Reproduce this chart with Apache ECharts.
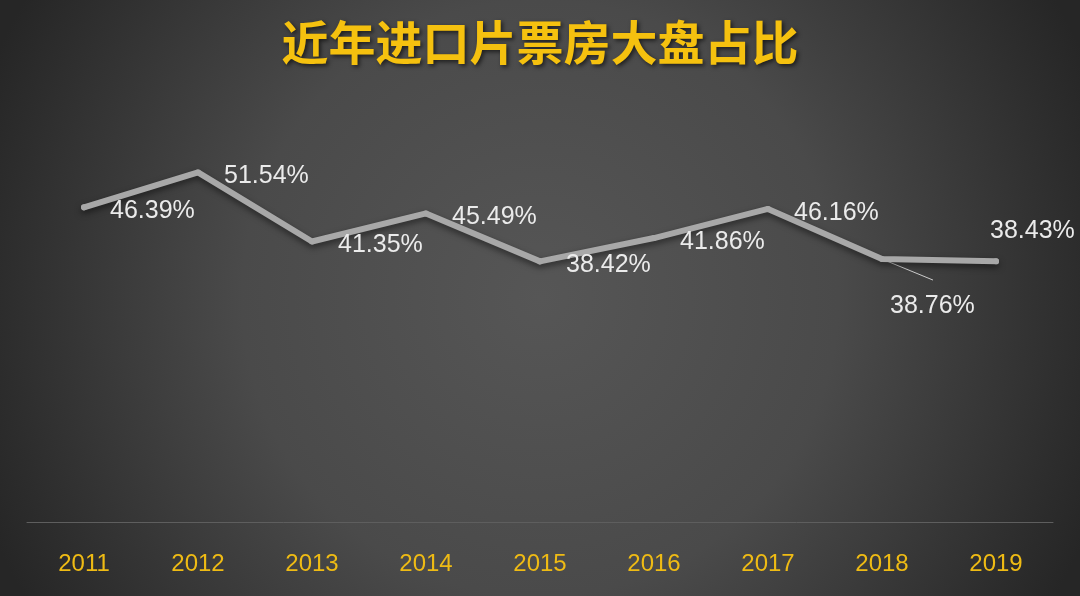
<!DOCTYPE html>
<html>
<head>
<meta charset="utf-8">
<script src="https://cdn.jsdelivr.net/npm/echarts@6/dist/echarts.min.js"></script>
<style>
html,body{margin:0;padding:0;background:#333;}
#chart{width:1080px;height:596px;}
</style>
</head>
<body>
<div id="chart"></div>
<script>
const titleText = '近年进口片票房大盘占比';
const years = ['2011','2012','2013','2014','2015','2016','2017','2018','2019'];
const shares = [46.39, 51.54, 41.35, 45.49, 38.42, 41.86, 46.16, 38.76, 38.43];
const leaderIndex = 7;

const chart = echarts.init(document.getElementById('chart'), null, {renderer:'canvas'});

const data = shares.map(function (v, i) {
  const item = { value: v };
  if (i === 7) {
    item.label = { offset: [-18, 47] };
  } else if (i === 8) {
    item.label = { offset: [-32, -30] };
  }
  return item;
});

chart.setOption({
  backgroundColor: {
    type: 'radial', x: 0.5, y: 0.5, r: 1.0,
    colorStops: [
      { offset: 0, color: '#565656' },
      { offset: 0.5, color: '#4a4a4a' },
      { offset: 0.9, color: '#2d2d2d' },
      { offset: 1, color: '#262626' }
    ]
  },
  title: {
    text: titleText,
    left: 'center',
    top: 14,
    textStyle: {
      fontFamily: '"Noto Sans CJK SC", sans-serif',
      fontSize: 47,
      fontWeight: 'bold',
      color: '#f5c10f',
      textShadowColor: 'rgba(0,0,0,0.6)',
      textShadowBlur: 4,
      textShadowOffsetX: 2,
      textShadowOffsetY: 2
    }
  },
  grid: { left: 27, right: 27, top: 115, bottom: 74 },
  xAxis: {
    type: 'category',
    data: years,
    boundaryGap: true,
    axisLine: { show: true, lineStyle: { color: '#5e5e5e', width: 1 } },
    axisTick: { show: false },
    axisLabel: {
      color: '#efbb14',
      fontSize: 24,
      fontFamily: '"Liberation Sans", Arial, sans-serif',
      margin: 30
    },
    splitLine: { show: false }
  },
  yAxis: {
    type: 'value',
    min: 0, max: 60,
    show: false,
    splitLine: { show: false }
  },
  series: [{
    type: 'custom',
    silent: true,
    z: 1,
    data: shares.map(function (v, i) { return [i, v]; }),
    renderItem: function (params, api) {
      if (params.dataIndex !== leaderIndex) return null;
      const p = api.coord([api.value(0), api.value(1)]);
      return {
        type: 'line',
        shape: { x1: p[0], y1: p[1], x2: p[0] + 51, y2: p[1] + 21 },
        style: { stroke: '#cccccc', lineWidth: 1 }
      };
    },
    animation: false
  }, {
    type: 'line',
    z: 2,
    data: data,
    symbol: 'circle',
    symbolSize: 6,
    itemStyle: { color: '#a8a8a8' },
    lineStyle: {
      color: '#a8a8a8',
      width: 6,
      cap: 'round',
      join: 'round',
      shadowColor: 'rgba(0,0,0,0.5)',
      shadowBlur: 6,
      shadowOffsetY: 3
    },
    label: {
      show: true,
      position: 'right',
      distance: 23,
      offset: [0, 4],
      formatter: function (p) { return p.value.toFixed(2) + '%'; },
      color: '#ebebeb',
      fontSize: 25,
      fontFamily: '"Liberation Sans", Arial, sans-serif'
    },
    emphasis: { disabled: true },
    animation: false
  }],
  animation: false
});
</script>
</body>
</html>
